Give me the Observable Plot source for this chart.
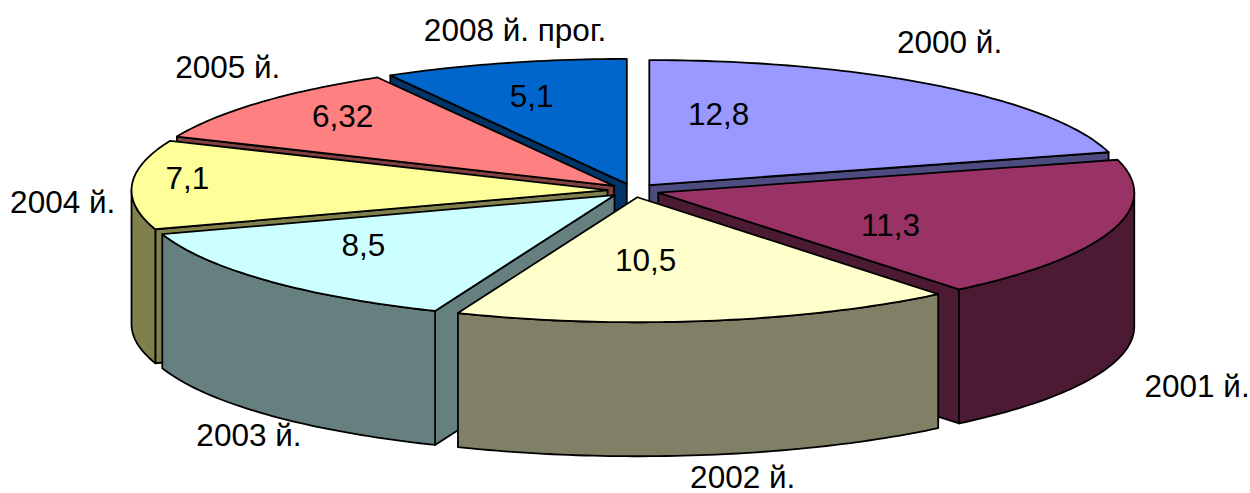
<!DOCTYPE html>
<html><head><meta charset="utf-8">
<script src="https://cdn.jsdelivr.net/npm/d3@7"></script>
<script src="https://cdn.jsdelivr.net/npm/@observablehq/plot@0.6"></script>
<style>html,body{margin:0;padding:0;background:#fff}svg{display:block}</style>
</head><body><div id="chart"></div>
<script>
const years = ["2000 й.","2001 й.","2002 й.","2003 й.","2004 й.","2005 й.","2008 й. прог."];
const values = [12.8,11.3,10.5,8.5,7.1,6.32,5.1];
const valueLabels = ["12,8","11,3","10,5","8,5","7,1","6,32","5,1"];
const topColors = ["#9999FF","#993366","#FFFFCC","#CCFFFF","#FFFF99","#FF8080","#0066CC"];
const sideColors = ["#4C4C80","#4D1A33","#808066","#668080","#80804D","#804040","#003366"];
const paintOrder = [0,6,5,4,1,3,2];

// layout of the tilted pie
const W=1250,H=493,cx=633,cy=190,rx=476,ry=125,depth=134,explode=26;
// label placement around the pie centre: [angle, radius fraction]
const valuePlace=[[16.4,.634],[117.4,.608],[177.4,.561],[232.2,.718],[275.8,.942],[314.1,.851],[344.1,.782]];
const namePlace=[[29.3,1.357],[142.95,1.965],[174.3,2.31],[202.4,2.12],[265.4,1.203],[319.1,1.302],[349,1.304]];
const total=d3.sum(values);
const rad=d=>d*Math.PI/180;
let acc=0;
const slices=values.map((v,i)=>{const a0=acc;acc+=v/total*360;return {i,a0,a1:acc,mid:(a0+acc)/2};});
const apex=s=>[cx+explode*Math.sin(rad(s.mid)),cy-explode*ry/rx*Math.cos(rad(s.mid))];
const rim=(s,a)=>{const [x,y]=apex(s);return [x+rx*Math.sin(rad(a)),y-ry*Math.cos(rad(a))];};
const down=([x,y])=>[x,y+depth];
const arc=(s,a,b)=>{const n=Math.max(2,Math.ceil(b-a));return d3.range(n+1).map(k=>rim(s,a+(b-a)*k/n));};

const faces=[];
function add(pts,fill){const id=faces.length;faces.push(pts.concat([pts[0]]).map(([x,y])=>({x,y,id,fill})));}
for(const i of paintOrder){
  const s=slices[i],A=apex(s),side=sideColors[i];
  if(Math.sin(rad(s.a0))<0){const p=rim(s,s.a0);add([A,p,down(p),down(A)],side);}
  if(Math.sin(rad(s.a1))>1e-6){const p=rim(s,s.a1);add([A,p,down(p),down(A)],side);}
  const a=Math.max(s.a0,90),b=Math.min(s.a1,270);
  if(b>a){const t=arc(s,a,b);add(t.concat(t.map(down).reverse()),side);}
  add([A,...arc(s,s.a0,s.a1)],topColors[i]);
}
const polar=([a,f])=>({x:cx+f*rx*Math.sin(rad(a)),y:cy-f*ry*Math.cos(rad(a))});
const valueText=valuePlace.map((p,i)=>({...polar(p),t:valueLabels[i]}));
const nameText=namePlace.map((p,i)=>({...polar(p),t:years[i]}));

const chart=Plot.plot({
  width:W,height:H,margin:0,
  x:{domain:[0,W],range:[0,W],axis:null},
  y:{domain:[0,H],range:[0,H],axis:null},
  color:{type:"identity"},
  marks:[
    ...faces.map(f=>Plot.line(f,{x:"x",y:"y",fill:f[0].fill,stroke:"#000",strokeWidth:1.8,strokeLinejoin:"round"})),
    Plot.text(valueText,{x:"x",y:"y",text:"t",fontSize:31.5,fontFamily:"Liberation Sans",fill:"#000"}),
    Plot.text(nameText,{x:"x",y:"y",text:"t",fontSize:31.5,fontFamily:"Liberation Sans",fill:"#000"})
  ]
});
document.getElementById("chart").appendChild(chart);
</script></body></html>
